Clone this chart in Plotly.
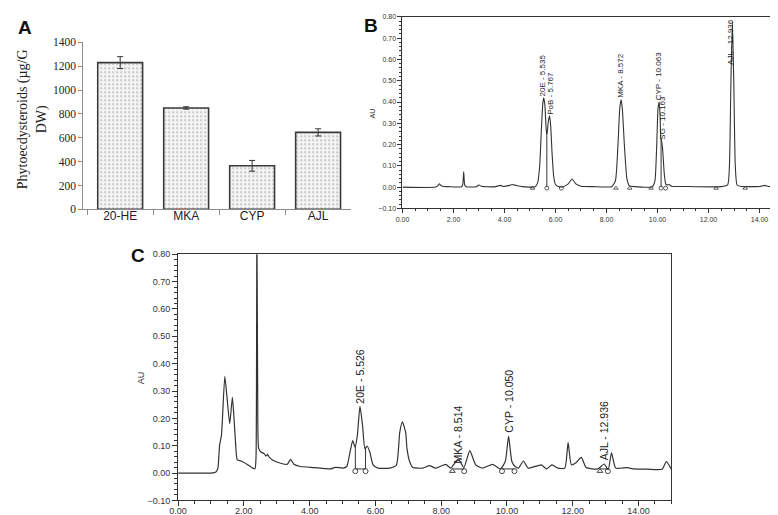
import plotly.graph_objects as go

# ---------------- Panel A data ----------------
categories = ["20-HE", "MKA", "CYP", "AJL"]
content = [1230, 850, 365, 645]
content_err = [50, 10, 45, 30]

# ---------------- Panel B data (standards chromatogram) ----------------
b_time = [0.0, 1.3, 1.4, 1.45, 1.5, 1.6, 1.8, 2.3, 2.36, 2.40, 2.44, 2.5, 2.9, 3.0, 3.1, 3.6,
          3.85, 3.95, 4.2, 4.3, 4.45, 4.7, 5.0, 5.2, 5.3, 5.38, 5.45, 5.5, 5.535, 5.58, 5.63,
          5.66, 5.72, 5.767, 5.81, 5.87, 5.93, 6.0, 6.1, 6.3, 6.5, 6.65, 6.8, 7.0, 7.5, 8.2,
          8.35, 8.45, 8.52, 8.572, 8.62, 8.70, 8.8, 8.9, 9.1, 9.8, 9.9, 9.97, 10.02, 10.063,
          10.1, 10.13, 10.163, 10.2, 10.26, 10.32, 10.38, 10.45, 10.55, 11.0, 12.5, 12.75,
          12.82, 12.88, 12.936, 12.99, 13.05, 13.12, 13.3, 14.0, 14.2, 14.35, 14.8, 15.0]
b_au = [0.0, 0.0, 0.008, 0.016, 0.008, 0.003, 0.002, 0.001, 0.01, 0.072, 0.01, 0.002, 0.002,
        0.01, 0.004, 0.001, 0.008, 0.003, 0.008, 0.012, 0.008, 0.002, 0.0, 0.002, 0.02, 0.10,
        0.28, 0.39, 0.42, 0.39, 0.28, 0.24, 0.31, 0.335, 0.29, 0.15, 0.05, 0.012, 0.003, 0.002,
        0.015, 0.038, 0.015, 0.004, 0.002, 0.002, 0.03, 0.2, 0.37, 0.41, 0.37, 0.2, 0.04, 0.006,
        0.002, 0.002, 0.03, 0.2, 0.37, 0.40, 0.34, 0.23, 0.215, 0.18, 0.07, 0.015, 0.01, 0.012,
        0.004, 0.003, 0.002, 0.01, 0.1, 0.5, 0.78, 0.5, 0.1, 0.01, 0.003, 0.003, 0.008, 0.003,
        0.002, 0.003]
b_labels = ["20E - 5.535", "PoB - 5.767", "MKA - 8.572", "CYP - 10.063", "SG - 10.163", "AJL - 12.936"]
b_label_x = [5.50, 5.80, 8.55, 10.07, 10.19, 12.88]
b_label_y = [0.42, 0.335, 0.415, 0.405, 0.22, 0.57]
b_drop_x = [5.66, 10.14]
b_drop_y = [0.24, 0.225]
b_tri_x = [5.1, 8.37, 8.91, 9.75, 12.3, 13.44]
b_circ_x = [5.66, 6.23, 10.14, 10.32]
b_mark_y = -0.005

# ---------------- Panel C data (extract chromatogram) ----------------
c_time = [0.0, 1.0, 1.15, 1.21, 1.26, 1.32, 1.42, 1.50, 1.57, 1.65, 1.70, 1.74, 1.80, 1.92,
          2.12, 2.27, 2.34, 2.37, 2.395, 2.42, 2.45, 2.52, 2.62, 2.67, 2.72, 2.77, 2.87, 3.12,
          3.32, 3.42, 3.52, 3.72, 4.13, 4.63, 4.78, 5.03, 5.13, 5.23, 5.31, 5.38, 5.45, 5.53,
          5.61, 5.68, 5.75, 5.83, 5.93, 6.08, 6.44, 6.64, 6.74, 6.82, 6.92, 6.96, 7.04, 7.14,
          7.44, 7.64, 7.84, 8.14, 8.29, 8.52, 8.69, 8.87, 9.05, 9.25, 9.57, 9.80, 9.95, 10.05,
          10.15, 10.25, 10.35, 10.50, 10.65, 11.05, 11.20, 11.37, 11.55, 11.76, 11.86, 11.96,
          12.11, 12.26, 12.41, 12.76, 12.96, 13.08, 13.18, 13.31, 13.66, 13.86, 14.27, 14.72,
          14.85, 15.0]
c_au = [0.0, 0.0, 0.004, 0.018, 0.10, 0.14, 0.354, 0.26, 0.18, 0.277, 0.20, 0.125, 0.048, 0.044,
        0.03, 0.018, 0.016, 0.06, 0.95, 0.30, 0.09, 0.077, 0.071, 0.062, 0.068, 0.058, 0.048,
        0.036, 0.032, 0.05, 0.032, 0.024, 0.02, 0.015, 0.021, 0.018, 0.024, 0.077, 0.119, 0.095,
        0.137, 0.244, 0.173, 0.089, 0.099, 0.077, 0.03, 0.018, 0.018, 0.03, 0.149, 0.187, 0.149,
        0.09, 0.042, 0.02, 0.018, 0.027, 0.018, 0.032, 0.018, 0.051, 0.02, 0.082, 0.03, 0.018,
        0.032, 0.015, 0.042, 0.135, 0.042, 0.024, 0.018, 0.044, 0.018, 0.03, 0.015, 0.03, 0.018,
        0.018, 0.111, 0.03, 0.039, 0.057, 0.02, 0.015, 0.033, 0.012, 0.074, 0.018, 0.02, 0.015,
        0.014, 0.014, 0.042, 0.014]
c_labels = ["20E - 5.526", "MKA - 8.514", "CYP - 10.050", "AJL - 12.936"]
c_label_x = [5.53, 8.50, 10.07, 12.96]
c_label_y = [0.25, 0.03, 0.143, 0.042]
c_base_x = [[5.39, 5.70], [8.34, 8.70], [9.85, 10.23], [12.83, 13.07]]
c_base_y = 0.015
c_drop_x = [5.39, 5.70]
c_drop_y = [0.10, 0.095]
c_tri_x = [8.34, 12.83]
c_circ_x = [5.39, 5.70, 8.70, 9.85, 10.23, 13.07]
c_mark_y = 0.007

# ---------------- Figure ----------------
LINE = "#333333"
SANS = "Liberation Sans"
SERIF = "Liberation Serif"

fig = go.Figure()

fig.add_trace(go.Bar(
    x=categories, y=content, width=0.68, xaxis="x", yaxis="y",
    marker=dict(color="#f4f4f4", line=dict(color="#3a3a3a", width=1.6),
                pattern=dict(shape=".", fgcolor="#9a9a9a", bgcolor="#f7f7f7", size=4, solidity=0.3)),
    error_y=dict(type="data", array=content_err, color="#333", thickness=1, width=3),
    showlegend=False))

# Panel B
fig.add_trace(go.Scatter(x=b_time, y=b_au, mode="lines",
                         line=dict(color=LINE, width=1.1, shape="spline", smoothing=0.5),
                         xaxis="x2", yaxis="y2", showlegend=False))
for dx, dy in zip(b_drop_x, b_drop_y):
    fig.add_trace(go.Scatter(x=[dx, dx], y=[0, dy], mode="lines", line=dict(color=LINE, width=1),
                             xaxis="x2", yaxis="y2", showlegend=False))
fig.add_trace(go.Scatter(x=b_tri_x, y=[b_mark_y] * len(b_tri_x), mode="markers",
                         marker=dict(symbol="triangle-up-open", size=4, color=LINE, line=dict(width=0.8)),
                         xaxis="x2", yaxis="y2", showlegend=False))
fig.add_trace(go.Scatter(x=b_circ_x, y=[b_mark_y] * len(b_circ_x), mode="markers",
                         marker=dict(symbol="circle-open", size=4, color=LINE, line=dict(width=0.8)),
                         xaxis="x2", yaxis="y2", showlegend=False))

# Panel C
fig.add_trace(go.Scatter(x=c_time, y=c_au, mode="lines",
                         line=dict(color=LINE, width=1.2, shape="spline", smoothing=0.5),
                         xaxis="x3", yaxis="y3", showlegend=False))
for bx in c_base_x:
    fig.add_trace(go.Scatter(x=bx, y=[c_base_y, c_base_y], mode="lines", line=dict(color=LINE, width=1),
                             xaxis="x3", yaxis="y3", showlegend=False))
for dx, dy in zip(c_drop_x, c_drop_y):
    fig.add_trace(go.Scatter(x=[dx, dx], y=[c_base_y, dy], mode="lines", line=dict(color=LINE, width=1),
                             xaxis="x3", yaxis="y3", showlegend=False))
fig.add_trace(go.Scatter(x=c_tri_x, y=[c_mark_y] * len(c_tri_x), mode="markers",
                         marker=dict(symbol="triangle-up-open", size=5, color=LINE, line=dict(width=0.9)),
                         xaxis="x3", yaxis="y3", showlegend=False))
fig.add_trace(go.Scatter(x=c_circ_x, y=[c_mark_y] * len(c_circ_x), mode="markers",
                         marker=dict(symbol="circle-open", size=5, color=LINE, line=dict(width=0.9)),
                         xaxis="x3", yaxis="y3", showlegend=False))

annotations = []
for t, x, y in zip(b_labels, b_label_x, b_label_y):
    annotations.append(dict(text=t, x=x, y=y, xref="x2", yref="y2", textangle=-90, showarrow=False,
                            xanchor="center", yanchor="bottom", borderpad=0,
                            font=dict(family=SANS, size=8, color="#222")))
for t, x, y in zip(c_labels, c_label_x, c_label_y):
    annotations.append(dict(text=t, x=x, y=y, xref="x3", yref="y3", textangle=-90, showarrow=False,
                            xanchor="center", yanchor="bottom", borderpad=0,
                            font=dict(family=SANS, size=10.5, color="#222")))

W, H = 778, 515
def px(x, y):
    return x / W, 1 - y / H

for txt, (x, y) in [("A", (8, 14)), ("B", (358, 12)), ("C", (122, 247))]:
    ax, ay = px(x, y)
    annotations.append(dict(text="<b>%s</b>" % txt, x=ax, y=ay, xref="paper", yref="paper",
                            showarrow=False, xanchor="center", yanchor="middle",
                            font=dict(family=SANS, size=19, color="#111")))
ax, ay = px(359.5, 101.5)
annotations.append(dict(text="AU", x=ax, y=ay, xref="paper", yref="paper", textangle=-90, showarrow=False,
                        xanchor="center", yanchor="middle",
                        font=dict(family=SANS, size=7, color="#333")))
ax, ay = px(125, 372.5)
annotations.append(dict(text="AU", x=ax, y=ay, xref="paper", yref="paper", textangle=-90, showarrow=False,
                        xanchor="center", yanchor="middle",
                        font=dict(family=SANS, size=9, color="#333")))
ax, ay = px(16, 108)
annotations.append(dict(text="Phytoecdysteroids (µg/G<br>DW)", x=ax, y=ay, xref="paper", yref="paper",
                        textangle=-90, showarrow=False, xanchor="center", yanchor="middle",
                        font=dict(family=SERIF, size=14, color="#222")))

chrom_x = dict(range=[0, 15], dtick=2, tickformat=".2f", showline=True, mirror=True,
               linecolor=LINE, linewidth=1, ticks="outside", tickcolor=LINE, showgrid=False,
               zeroline=False)
chrom_y = dict(range=[-0.1, 0.8], dtick=0.1, tick0=0, tickformat=".2f", showline=True, mirror=True,
               linecolor=LINE, linewidth=1, ticks="outside", tickcolor=LINE, showgrid=False,
               zeroline=False)

fig.update_layout(
    width=W, height=H, margin=dict(l=0, r=0, t=0, b=0),
    paper_bgcolor="white", plot_bgcolor="white", showlegend=False, bargap=0.3,
    xaxis=dict(domain=[67 / W, 338 / W], anchor="y", range=[-0.56, 3.5], showline=True,
               linecolor="#8c8c8c", ticks="outside", tickson="boundaries", ticklen=5,
               tickcolor="#8c8c8c", showgrid=False, ticklabelstandoff=-5,
               tickfont=dict(family=SANS, size=12, color="#222")),
    yaxis=dict(domain=[1 - 200 / H, 1 - 29 / H], anchor="x", range=[0, 1400], dtick=200,
               showline=True, linecolor="#8c8c8c", ticks="outside", ticklen=4, tickcolor="#8c8c8c",
               showgrid=False, zeroline=False,
               tickfont=dict(family=SERIF, size=11.5, color="#222")),
    xaxis2=dict(domain=[390 / W, 777 / W], anchor="y2", ticklen=4,
                minor=dict(dtick=0.5, ticks="outside", ticklen=2, tickcolor=LINE),
                tickfont=dict(family=SANS, size=7, color="#333"), **chrom_x),
    yaxis2=dict(domain=[1 - 199 / H, 1 - 3 / H], anchor="x2", ticklen=4,
                minor=dict(dtick=0.02, ticks="outside", ticklen=2, tickcolor=LINE),
                tickfont=dict(family=SANS, size=7, color="#333"), **chrom_y),
    xaxis3=dict(domain=[163 / W, 662 / W], anchor="y3", ticklen=5, ticklabelstandoff=-3,
                minor=dict(dtick=0.5, ticks="outside", ticklen=3, tickcolor=LINE),
                tickfont=dict(family=SANS, size=9, color="#333"), **chrom_x),
    yaxis3=dict(domain=[1 - 498 / H, 1 - 246 / H], anchor="x3", ticklen=5,
                minor=dict(dtick=0.02, ticks="outside", ticklen=3, tickcolor=LINE),
                tickfont=dict(family=SANS, size=9, color="#333"), **chrom_y),
    annotations=annotations,
)

fig.write_html("out.html")
